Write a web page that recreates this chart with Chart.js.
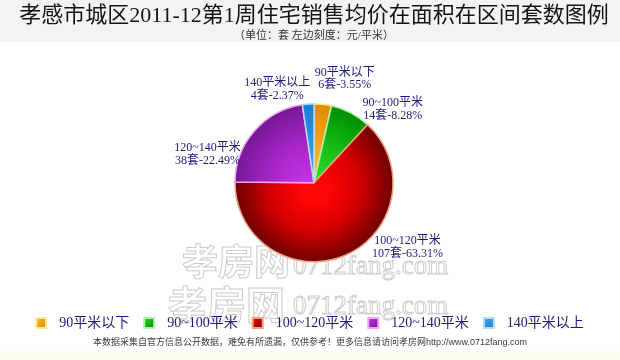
<!DOCTYPE html>
<html>
<head>
<meta charset="utf-8">
<script src="https://cdn.jsdelivr.net/npm/chart.js@4/dist/chart.umd.min.js"></script>
<style>
  html, body { margin: 0; padding: 0; background: #ffffff; }
  #wrap { width: 620px; height: 360px; position: relative; }
</style>
</head>
<body>
<div id="wrap"><canvas id="c" width="620" height="360"></canvas></div>
<script>
// ---- data ----
const categories = ['90平米以下', '90~100平米', '100~120平米', '120~140平米', '140平米以上'];
const counts = [6, 14, 107, 38, 4];
const titleText = '孝感市城区2011-12第1周住宅销售均价在面积在区间套数图例';
const subtitleText = '（单位：套 左边刻度：元/平米）';
const footerText = '本数据采集自官方信息公开数据，难免有所遗漏，仅供参考！更多信息请访问孝房网http://www.0712fang.com';
const unitText = '套';

// ---- styles ----
const innerColors = ['#ffc030', '#30d830', '#ff0606', '#c232e4', '#44a8f4'];
const midColors = ['#f4a818', '#14bc14', '#d80000', '#a826c8', '#2c94e6'];
const outerColors = ['#e08a00', '#008e00', '#6e0000', '#761896', '#1a7cd0'];
const borderColors = ['#ffe9a0', '#b0f0b0', '#f3a07c', '#f2a6f2', '#b4dcff'];
const labelOffsets = [[22, -31.5], [42, -10], [62, -14], [-47, 17], [-31, -21]];
const pieRadius = 79;
const navy = '#1c1c80';
const serifCJK = '"Liberation Serif", "Noto Sans CJK SC", serif';

const total = counts.reduce((a, b) => a + b, 0);

function gradientFor(ctx) {
  const chart = ctx.chart;
  const a = chart.chartArea;
  const i = ctx.dataIndex;
  if (!a || i === undefined) return outerColors[i] || '#888';
  const cx = (a.left + a.right) / 2, cy = (a.top + a.bottom) / 2;
  const g = chart.ctx.createRadialGradient(cx, cy + 8, 0, cx, cy, pieRadius);
  g.addColorStop(0, innerColors[i]);
  g.addColorStop(0.15, innerColors[i]);
  g.addColorStop(0.55, midColors[i]);
  g.addColorStop(1, outerColors[i]);
  return g;
}

const backgroundPlugin = {
  id: 'bg',
  beforeDraw(chart) {
    const c = chart.ctx;
    c.save();
    c.fillStyle = '#ffffff';
    c.fillRect(0, 0, chart.width, chart.height);
    c.fillStyle = '#f3f3f3';
    c.fillRect(0, 0, chart.width, 42);
    c.fillStyle = '#fdfdf0';
    c.fillRect(0, 351, chart.width, chart.height - 351);
    // watermark
    c.lineWidth = 1;
    c.strokeStyle = '#cccccc';
    c.fillStyle = '#ffffff';
    c.textBaseline = 'middle';
    c.textAlign = 'left';
    const marks = [
      { cjk: [182, 261, 36], url: [293, 267, 27] },
      { cjk: [168, 304, 39], url: [293, 307, 27] }
    ];
    marks.forEach(m => {
      c.font = 'bold ' + m.cjk[2] + 'px "Noto Sans CJK SC", sans-serif';
      c.fillText('孝房网', m.cjk[0], m.cjk[1]);
      c.strokeText('孝房网', m.cjk[0], m.cjk[1]);
      c.font = m.url[2] + 'px "Liberation Serif", serif';
      c.fillText('0712fang.com', m.url[0], m.url[1]);
      c.strokeText('0712fang.com', m.url[0], m.url[1]);
    });
    c.restore();
  }
};

const labelPlugin = {
  id: 'sliceLabels',
  afterDatasetsDraw(chart) {
    const c = chart.ctx;
    const meta = chart.getDatasetMeta(0);
    c.save();
    c.font = '12px ' + serifCJK;
    c.fillStyle = navy;
    c.textAlign = 'center';
    c.textBaseline = 'middle';
    meta.data.forEach((arc, i) => {
      const p = arc.getProps(['x', 'y', 'startAngle', 'endAngle', 'outerRadius'], true);
      const mid = (p.startAngle + p.endAngle) / 2;
      const px = p.x + Math.cos(mid) * p.outerRadius;
      const py = p.y + Math.sin(mid) * p.outerRadius;
      const tx = px + labelOffsets[i][0];
      const ty = py + labelOffsets[i][1];
      const pct = (counts[i] / total * 100).toFixed(2);
      c.fillText(categories[i], tx, ty);
      c.fillText(counts[i] + unitText + '-' + pct + '%', tx, ty + 12.5);
    });
    c.restore();
  }
};

const legendFooterPlugin = {
  id: 'legendFooter',
  afterDraw(chart) {
    const c = chart.ctx;
    c.save();
    c.font = '14px ' + serifCJK;
    const box = 10, gapText = 13, gapItem = 15;
    const widths = categories.map(t => c.measureText(t).width);
    let totalW = widths.reduce((s, w) => s + box + gapText + w, 0) + gapItem * (categories.length - 1);
    let x = chart.width / 2 - totalW / 2;
    const cy = 323;
    c.textBaseline = 'middle';
    c.textAlign = 'left';
    categories.forEach((t, i) => {
      const g = c.createLinearGradient(x, cy - 5, x + box, cy + 5);
      g.addColorStop(0, innerColors[i]);
      g.addColorStop(1, outerColors[i]);
      c.fillStyle = borderColors[i];
      c.fillRect(x - 1, cy - 6, box + 2, box + 2);
      c.fillStyle = g;
      c.fillRect(x + 1, cy - 4, box - 2, box - 2);
      c.fillStyle = navy;
      c.fillText(t, x + box + gapText, cy);
      x += box + gapText + widths[i] + gapItem;
    });
    // footer
    c.font = '9px "Liberation Sans", "Noto Sans CJK SC", sans-serif';
    c.fillStyle = '#3a3a3a';
    c.textAlign = 'center';
    c.fillText(footerText, 310, 342.5);
    c.restore();
  }
};

new Chart(document.getElementById('c'), {
  type: 'pie',
  data: {
    labels: categories,
    datasets: [{
      data: counts,
      backgroundColor: gradientFor,
      borderColor: borderColors,
      borderWidth: 1.5,
      radius: pieRadius
    }]
  },
  options: {
    responsive: false,
    animation: false,
    events: [],
    layout: { padding: { left: 8, right: 0, top: 0, bottom: 41 } },
    plugins: {
      legend: { display: false },
      tooltip: { enabled: false },
      title: {
        display: true,
        text: titleText,
        color: '#141414',
        font: { size: 22, weight: 'normal', family: serifCJK },
        padding: { top: 3, bottom: 0 }
      },
      subtitle: {
        display: true,
        text: subtitleText,
        color: '#333333',
        font: { size: 11, weight: 'normal', family: serifCJK },
        padding: { top: 0, bottom: 4 }
      }
    }
  },
  plugins: [backgroundPlugin, labelPlugin, legendFooterPlugin]
});
</script>
</body>
</html>
